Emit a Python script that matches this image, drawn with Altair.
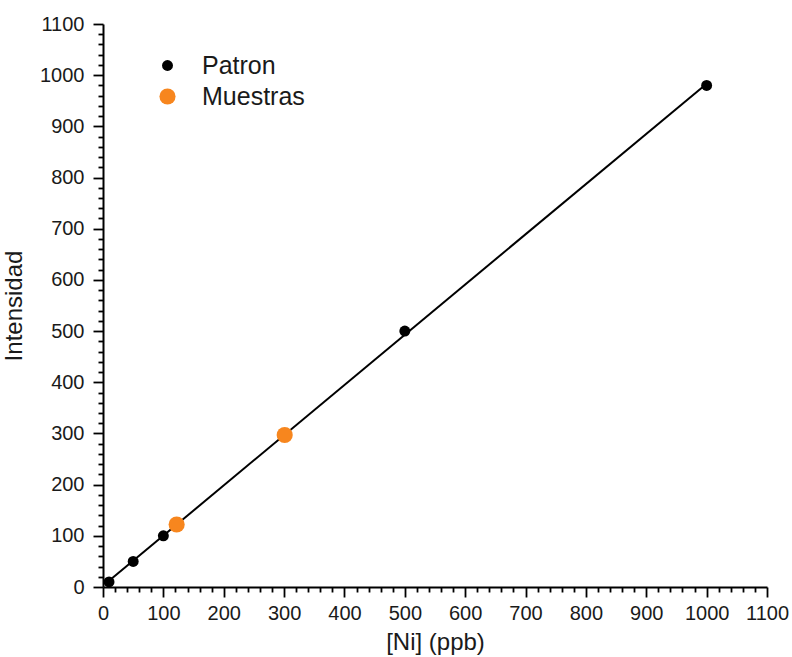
import altair as alt
import pandas as pd

# ---- data ----
patron_x = [10, 50, 100, 500, 1000]
patron_y = [10, 50, 100, 500, 980]
muestras_x = [122, 301]
muestras_y = [122, 297]
series = ["Patron", "Muestras"]
series_colors = ["#000000", "#F7861E"]
series_sizes = [120, 260]
tick_values = list(range(0, 1101, 20))
fit_extent = [10, 1000]

df = pd.DataFrame({
    "x": patron_x + muestras_x,
    "y": patron_y + muestras_y,
    "serie": [series[0]] * len(patron_x) + [series[1]] * len(muestras_x),
})

FONT = "Liberation Sans"
MAJOR = "datum.value % 100 === 0"


def make_axis(title, pad, lpad):
    return alt.Axis(
        title=title,
        values=tick_values,
        tickCount=len(tick_values),
        format="d",
        labelExpr=f"{MAJOR} ? datum.label : ''",
        tickSize={"condition": {"test": MAJOR, "value": 10}, "value": 5},
        tickWidth=1.8,
        tickColor="black",
        domainColor="black",
        domainWidth=2,
        grid=False,
        labelOverlap=False,
        labelFlush=False,
        labelFont=FONT,
        labelFontSize=20,
        labelColor="#1a1a1a",
        labelPadding=lpad,
        titleFont=FONT,
        titleFontSize=24,
        titleFontWeight="normal",
        titleColor="#1a1a1a",
        titlePadding=pad,
    )


xs = alt.Scale(domain=[0, 1100], nice=False, zero=True)
ys = alt.Scale(domain=[0, 1100], nice=False, zero=True)

base = alt.Chart(df)

fit = (
    base.transform_filter(alt.datum.serie == series[0])
    .transform_regression("x", "y", extent=fit_extent)
    .mark_line(color="black", strokeWidth=2)
    .encode(
        x=alt.X("x:Q", scale=xs, axis=make_axis("[Ni] (ppb)", 7, 6)),
        y=alt.Y("y:Q", scale=ys, axis=make_axis("Intensidad", 13, 9)),
    )
)

leg = alt.Legend(
    title=None,
    orient="none",
    legendX=52,
    legendY=29,
    labelFont=FONT,
    labelFontSize=25,
    labelColor="#1a1a1a",
    symbolType="circle",
    symbolStrokeWidth=0,
    labelOffset=22,
    rowPadding=5,
    padding=0,
)

pts = base.mark_circle(opacity=1).encode(
    x=alt.X("x:Q", scale=xs),
    y=alt.Y("y:Q", scale=ys),
    color=alt.Color("serie:N", scale=alt.Scale(domain=series, range=series_colors), legend=leg),
    size=alt.Size("serie:N", scale=alt.Scale(domain=series, range=series_sizes), legend=leg),
)

chart = (
    alt.layer(fit, pts)
    .properties(
        width=664,
        height=563,
        autosize=alt.AutoSizeParams(type="none"),
        padding={"left": 103, "top": 24, "right": 25, "bottom": 70},
        background="white",
    )
    .configure_view(stroke=None)
)

chart.save("out.html", embed_options={"renderer": "svg", "actions": False})
